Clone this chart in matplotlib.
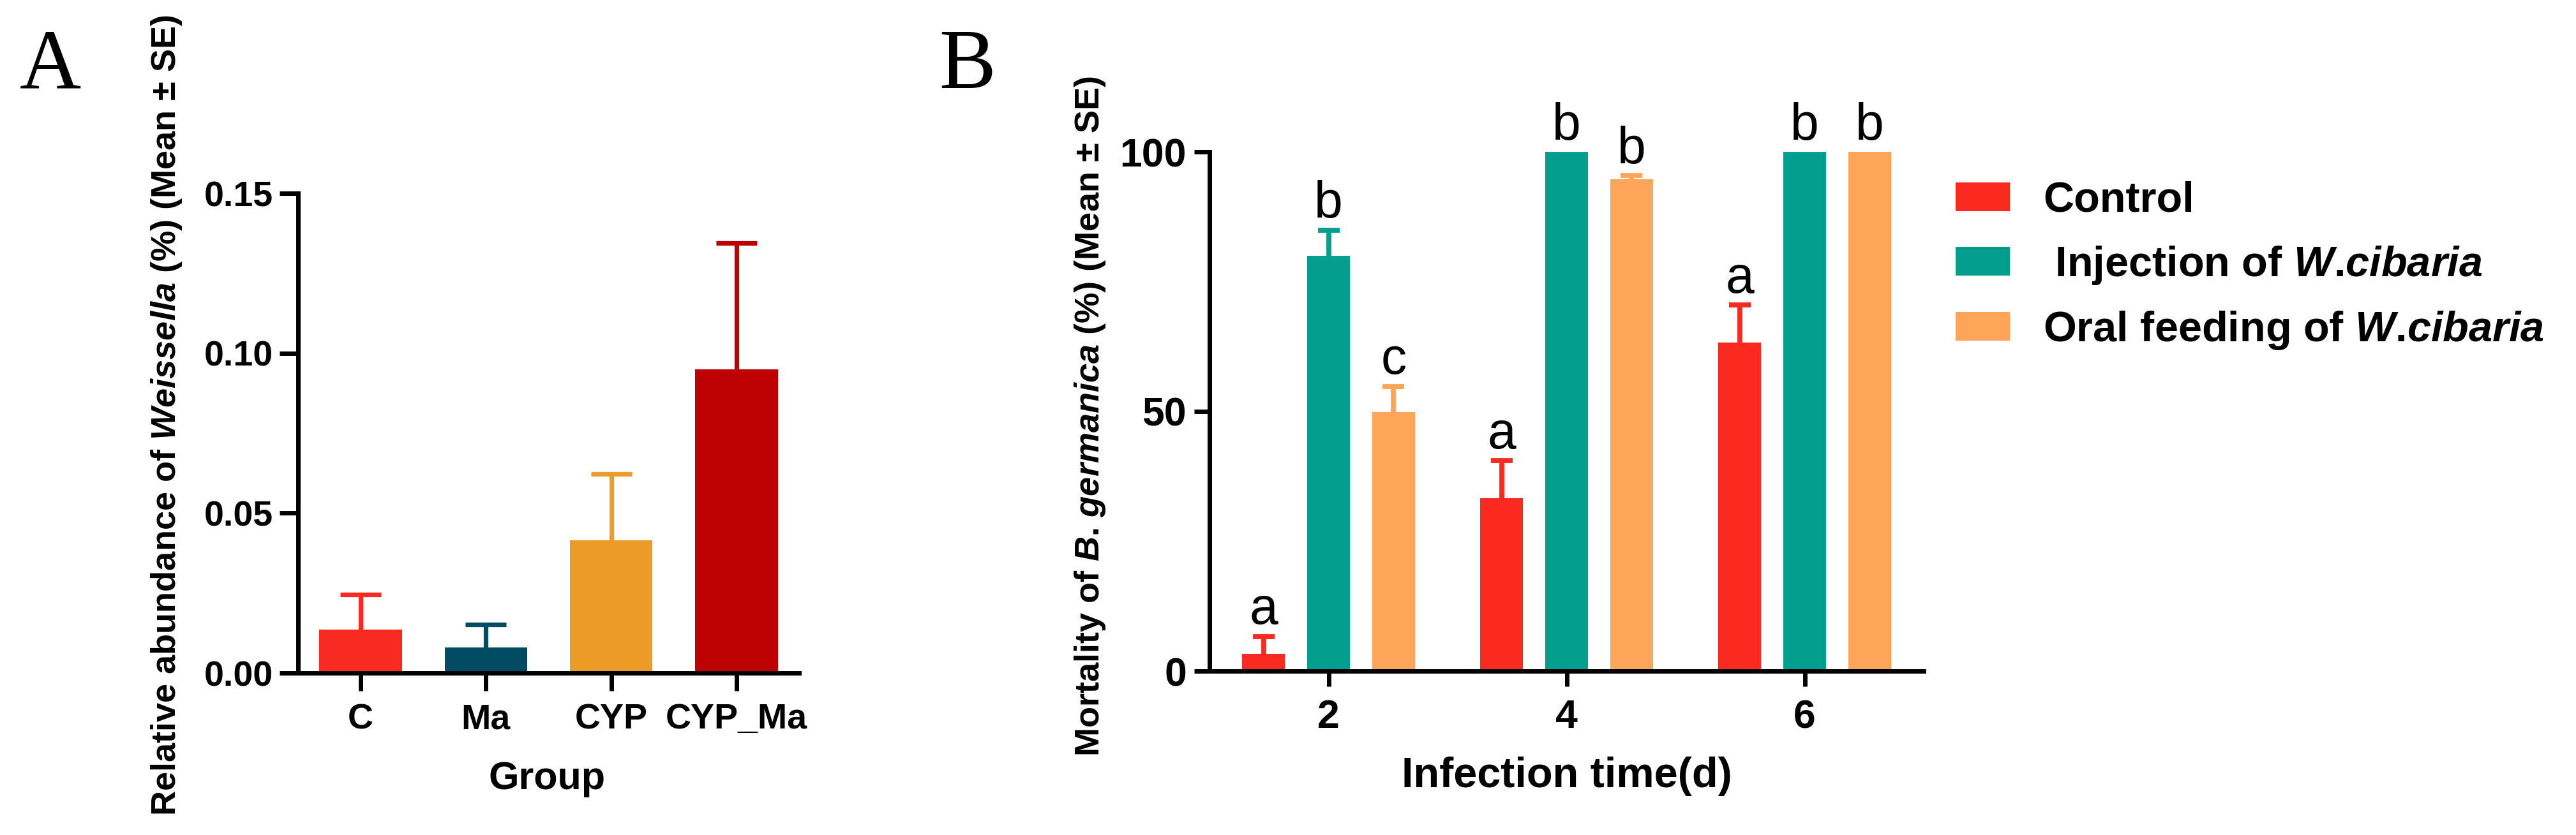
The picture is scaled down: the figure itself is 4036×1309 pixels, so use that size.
import numpy as np
import matplotlib
matplotlib.use("Agg")
import matplotlib.pyplot as plt
from matplotlib.patches import Patch

plt.rcParams['font.family'] = ['Liberation Sans', 'DejaVu Sans']
plt.rcParams['mathtext.fontset'] = 'custom'
plt.rcParams['mathtext.it'] = 'Liberation Sans:italic:bold'
plt.rcParams['mathtext.rm'] = 'Liberation Sans:bold'
plt.rcParams['mathtext.bf'] = 'Liberation Sans:bold'

# ---------------- data ----------------
groups_A = ['C', 'Ma', 'CYP', 'CYP_Ma']
mean_A = [0.0136, 0.0080, 0.0414, 0.0950]
se_A = [0.0110, 0.0072, 0.0208, 0.0394]
colors_A = ['#F92A21', '#024C63', '#EA9C26', '#BC0000']

days_B = ['2', '4', '6']
series_B = ['Control', ' Injection of $\\mathit{W}$.$\\mathit{cibaria}$',
            'Oral feeding of $\\mathit{W}$.$\\mathit{cibaria}$']
control_mean = [3.33, 33.3, 63.3]
control_se = [3.33, 7.2, 7.2]
inject_mean = [80.0, 100.0, 100.0]
inject_se = [4.9, 0.0, 0.0]
oral_mean = [49.9, 94.7, 100.0]
oral_se = [4.9, 0.7, 0.0]
letters_control = ['a', 'a', 'a']
letters_inject = ['b', 'b', 'b']
letters_oral = ['c', 'b', 'b']
colors_B = ['#FA2A21', '#039E8E', '#FEA55A']

# ---------------- figure ----------------
W, H = 4036, 1309
DPI = 100
fig = plt.figure(figsize=(W / DPI, H / DPI), dpi=DPI)


def ax_rect(x0, x1, y_top, y_bot):
    return [x0 / W, 1 - y_bot / H, (x1 - x0) / W, (y_bot - y_top) / H]


def upper_errorbar(ax, x, m, s, color, lw, cap):
    eb = ax.errorbar([x], [m], yerr=[[0], [s]], fmt='none', ecolor=color,
                     elinewidth=lw, capsize=cap, capthick=lw, zorder=3)
    # hide the lower cap (sits on the bar top)
    for cl in eb[1]:
        if np.allclose(cl.get_ydata(), [m]):
            cl.set_visible(False)
    return eb


LW = 5.0

# ---------------- panel A ----------------
axA = fig.add_axes(ax_rect(467, 1252, 303, 1055))
xA = np.arange(len(groups_A))
axA.bar(xA, mean_A, width=0.66, color=colors_A, zorder=2)
for xi, m, s, c in zip(xA, mean_A, se_A, colors_A):
    upper_errorbar(axA, xi, m, s, c, 5.2, 23)
axA.set_xlim(-0.5, len(groups_A) - 0.5)
axA.set_ylim(0, 0.15)
axA.set_yticks([0.00, 0.05, 0.10, 0.15])
axA.set_yticklabels(['0.00', '0.05', '0.10', '0.15'])
axA.set_xticks(xA)
axA.set_xticklabels(groups_A)
for sp in ['top', 'right']:
    axA.spines[sp].set_visible(False)
for sp in ['left', 'bottom']:
    axA.spines[sp].set_linewidth(LW)
axA.tick_params(axis='y', length=21, width=LW, pad=7, labelsize=40)
axA.tick_params(axis='x', length=20, width=LW, pad=14, labelsize=40)
for lab in axA.get_xticklabels() + axA.get_yticklabels():
    lab.set_fontweight('bold')

fig.text(857 / W, 1 - 1222 / H, 'Group', ha='center', va='center',
         fontsize=44, fontweight='bold')
fig.text(261 / W, 1 - 651 / H,
         'Relative abundance of $\\mathit{Weissella}$ (%) (Mean ± SE)',
         ha='center', va='center', rotation=90, fontsize=39, fontweight='bold')

# ---------------- panel B ----------------
axB = fig.add_axes(ax_rect(1895, 3014, 238, 1052))
xB = np.arange(len(days_B))
offs = 0.273
bw = 0.18
means = [control_mean, inject_mean, oral_mean]
ses = [control_se, inject_se, oral_se]
letters = [letters_control, letters_inject, letters_oral]
handles = []
for k in range(3):
    pos = xB + (k - 1) * offs
    axB.bar(pos, means[k], width=bw, color=colors_B[k], zorder=2)
    handles.append(Patch(facecolor=colors_B[k], edgecolor='none'))
    for p, m, s, lt in zip(pos, means[k], ses[k], letters[k]):
        if s > 0:
            upper_errorbar(axB, p, m, s, colors_B[k], 5.6, 12.2)
        axB.annotate(lt, xy=(p, m + s), xytext=(0, 14), textcoords='offset points',
                     ha='center', va='baseline', fontsize=58, annotation_clip=False)
axB.set_xlim(-0.5, len(days_B) - 0.5)
axB.set_ylim(0, 100)
axB.set_yticks([0, 50, 100])
axB.set_xticks(xB)
axB.set_xticklabels(days_B)
for sp in ['top', 'right']:
    axB.spines[sp].set_visible(False)
for sp in ['left', 'bottom']:
    axB.spines[sp].set_linewidth(LW)
axB.tick_params(axis='both', length=17, width=LW, labelsize=45)
axB.tick_params(axis='y', pad=9)
axB.tick_params(axis='x', pad=14)
for lab in axB.get_xticklabels() + axB.get_yticklabels():
    lab.set_fontweight('bold')

fig.text(2455 / W, 1 - 1217 / H, 'Infection time(d)', ha='center', va='center',
         fontsize=48, fontweight='bold')
fig.text(1708 / W, 1 - 653 / H,
         'Mortality of $\\mathit{B}$. $\\mathit{germanica}$ (%) (Mean ± SE)',
         ha='center', va='center', rotation=90, fontsize=39, fontweight='bold')

leg = axB.legend(handles, series_B, loc='upper left',
                 bbox_to_anchor=(3064 / W, 1 - 284 / H), bbox_transform=fig.transFigure,
                 frameon=False, borderpad=0, borderaxespad=0,
                 handlelength=1.27, handleheight=0.66, handletextpad=0.79,
                 labelspacing=0.55, prop={'size': 48, 'weight': 'bold'})

# panel letters
fig.text(31 / W, 1 - 138 / H, 'A', ha='left', va='baseline', fontsize=96,
         family='Liberation Serif')
fig.text(1471 / W, 1 - 138 / H, 'B', ha='left', va='baseline', fontsize=96,
         family='Liberation Serif')

fig.savefig('out.png', dpi=DPI)
